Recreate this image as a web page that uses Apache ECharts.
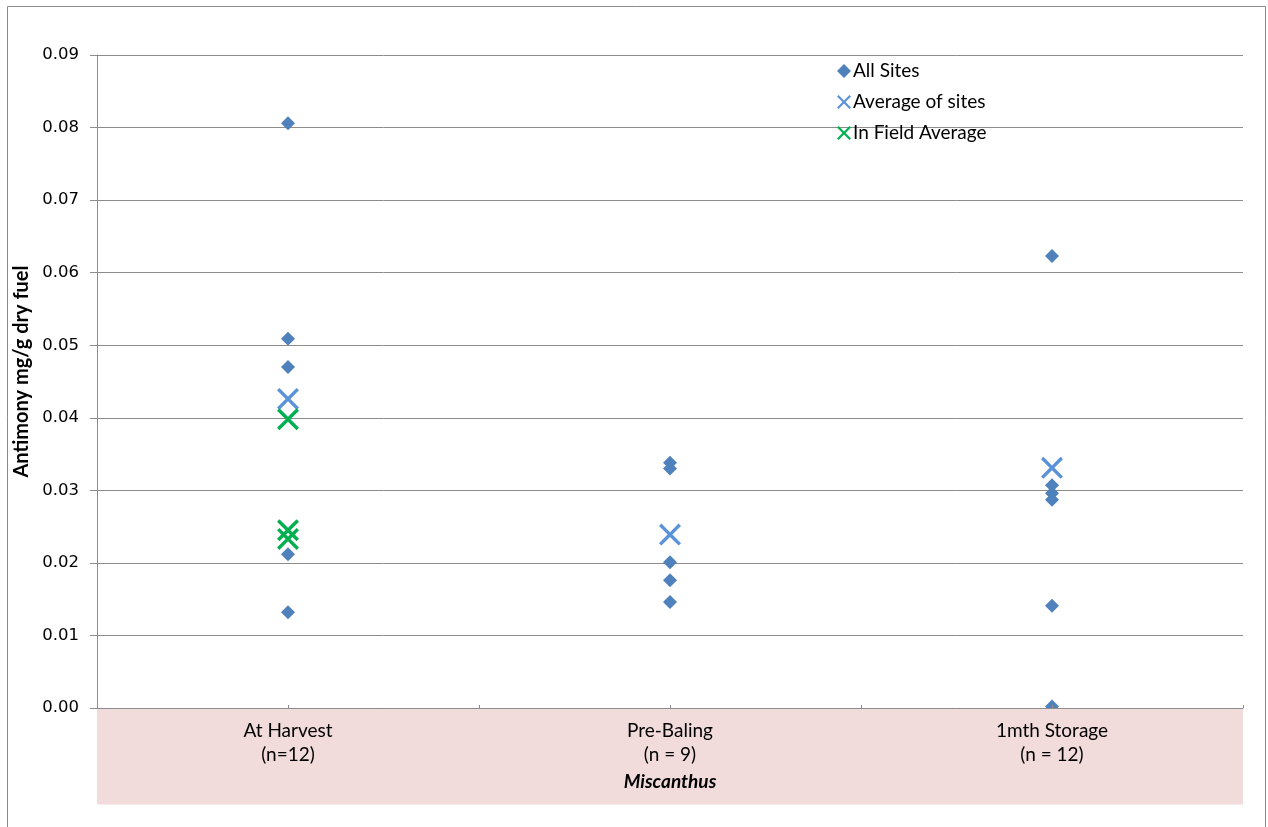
<!DOCTYPE html>
<html>
<head>
<meta charset="utf-8">
<script src="https://cdn.jsdelivr.net/npm/echarts@6/dist/echarts.min.js"></script>
<style>html,body{margin:0;padding:0;background:#fff;}#chart{width:1268px;height:827px;}</style>
</head>
<body>
<div id="chart"></div>
<script>
// ---- data ----
const categories = ['At Harvest', 'Pre-Baling', '1mth Storage'];
const sampleCounts = ['(n=12)', '(n = 9)', '(n = 12)'];
const xTitle = 'Miscanthus';
const yTitle = 'Antimony mg/g dry fuel';
const seriesNames = ['All Sites', 'Average of sites', 'In Field Average'];
// All Sites values per stage (x position = stage index + 1)
const allSitesHarvest = [0.0806, 0.0509, 0.0470, 0.0212, 0.0132];
const allSitesPreBaling = [0.0338, 0.0330, 0.0201, 0.0176, 0.0146];
const allSitesStorage = [0.0623, 0.0307, 0.0296, 0.0287, 0.0141, 0.0002];
const averageOfSites = [0.0426, 0.0239, 0.0331];
const inFieldAverageHarvest = [0.0398, 0.0245, 0.0233];
const yTicks = { min: 0, max: 0.09, interval: 0.01 };

// ---- build ----
const allSitesData = [];
[allSitesHarvest, allSitesPreBaling, allSitesStorage].forEach((arr, i) => {
  arr.forEach(v => allSitesData.push([i + 1, v]));
});
const avgData = averageOfSites.map((v, i) => [i + 1, v]);
const inFieldData = inFieldAverageHarvest.map(v => [1, v]);

const crossPath = 'path://M0,1.1 L1.1,0 L5,3.9 L8.9,0 L10,1.1 L6.1,5 L10,8.9 L8.9,10 L5,6.1 L1.1,10 L0,8.9 L3.9,5 Z';
const calibriLike = 'Lato, "Open Sans", sans-serif';
const gridGray = '#8c8c8c';

const chart = echarts.init(document.getElementById('chart'), null, { renderer: 'canvas' });
chart.setOption({
  animation: false,
  backgroundColor: '#fff',
  grid: { left: 97, right: 25, top: 55, bottom: 119, containLabel: false },
  legend: {
    orient: 'vertical',
    left: 832,
    top: 56,
    itemWidth: 14,
    itemHeight: 14,
    itemGap: 11,
    textStyle: { fontFamily: calibriLike, fontSize: 19, color: '#000', lineHeight: 20, padding: [0, 0, 0, -3] },
    data: [
      { name: seriesNames[0], icon: 'diamond' },
      { name: seriesNames[1], icon: crossPath },
      { name: seriesNames[2], icon: crossPath }
    ]
  },
  xAxis: {
    type: 'value',
    min: 0.5, max: 3.5, interval: 0.5,
    z: 10,
    name: xTitle,
    nameLocation: 'middle',
    nameGap: 61,
    nameTextStyle: { fontFamily: calibriLike, fontSize: 19, fontStyle: 'italic', fontWeight: 'bold', color: '#000' },
    axisLine: { show: true, lineStyle: { color: gridGray, width: 1 } },
    axisTick: { show: true, length: 3, inside: true, lineStyle: { color: gridGray } },
    splitLine: { show: false },
    axisLabel: {
      margin: 11,
      fontFamily: calibriLike, fontSize: 19, color: '#000', lineHeight: 24,
      showMinLabel: true, showMaxLabel: true,
      formatter: function (v) {
        const idx = Math.round(v) - 1;
        if (Math.abs(v - Math.round(v)) > 1e-6 || idx < 0 || idx >= categories.length) return '';
        return categories[idx] + '\n' + sampleCounts[idx];
      }
    }
  },
  yAxis: {
    type: 'value',
    min: yTicks.min, max: yTicks.max, interval: yTicks.interval,
    name: yTitle,
    nameLocation: 'middle',
    nameRotate: 90,
    nameGap: 58,
    nameTextStyle: { fontFamily: calibriLike, fontSize: 20, fontWeight: 'bold', color: '#000', padding: [0, 0, 0, 20] },
    axisLine: { show: true, lineStyle: { color: gridGray, width: 1 } },
    axisTick: { show: true, length: 7, lineStyle: { color: gridGray } },
    splitLine: { show: true, lineStyle: { color: gridGray, width: 1 } },
    axisLabel: {
      margin: 18,
      fontFamily: '"DejaVu Sans", Verdana, sans-serif', fontSize: 16.5, color: '#000',
      formatter: v => v.toFixed(2)
    }
  },
  graphic: [
    {
      type: 'rect', z: 5, silent: true,
      shape: { x: 97, y: 708.5, width: 1146, height: 96 },
      style: { fill: '#F2DCDB' }
    },
    {
      type: 'rect', z: 0, silent: true,
      shape: { x: 7.5, y: 6.5, width: 1258, height: 830 },
      style: { fill: 'none', stroke: '#8a8a8a', lineWidth: 1 }
    }
  ],
  series: [
    {
      name: seriesNames[0], type: 'scatter', symbol: 'diamond', symbolSize: [14, 14],
      itemStyle: { color: '#4F81BD', opacity: 1 }, data: allSitesData, z: 2, clip: false
    },
    {
      name: seriesNames[1], type: 'scatter', symbol: crossPath, symbolSize: [22, 22],
      itemStyle: { color: '#5B93DB', opacity: 1 }, data: avgData, z: 3
    },
    {
      name: seriesNames[2], type: 'scatter', symbol: crossPath, symbolSize: [22, 22],
      itemStyle: { color: '#00B050', opacity: 1 }, data: inFieldData, z: 3
    }
  ]
});
</script>
</body>
</html>
